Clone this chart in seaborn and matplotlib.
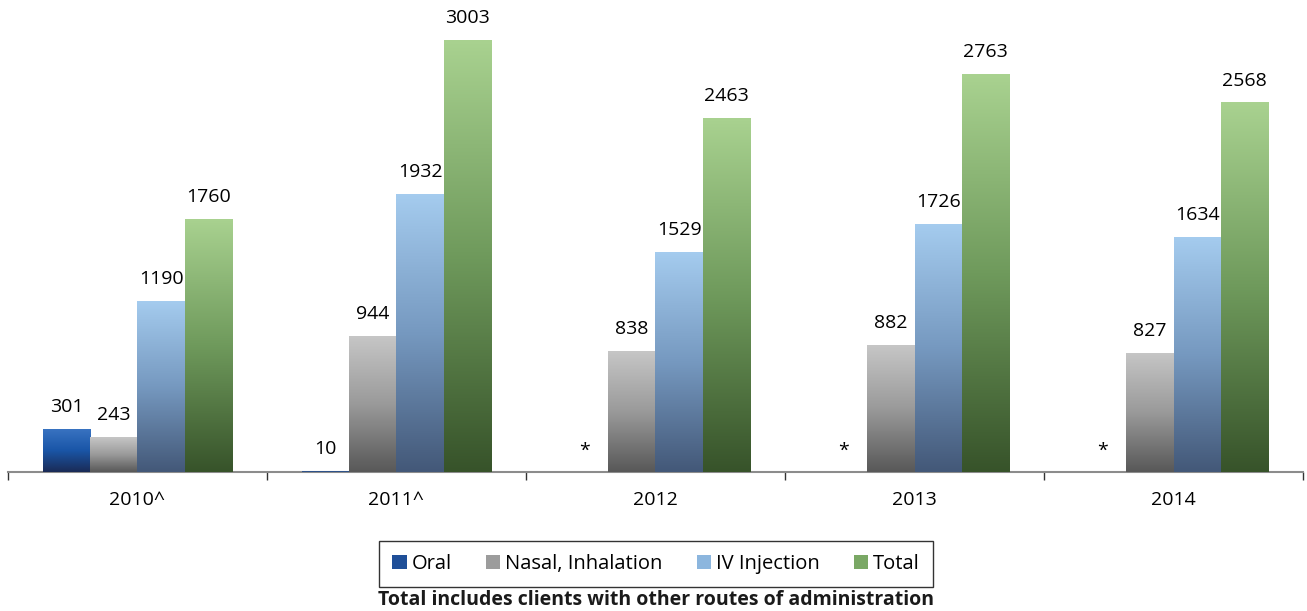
import matplotlib

matplotlib.use("Agg")
import matplotlib.pyplot as plt
import matplotlib.colors as mcolors
import numpy as np
import pandas as pd
import seaborn as sns
from matplotlib.patches import Patch

years = ["2010^", "2011^", "2012", "2013", "2014"]
routes = ["Oral", "Nasal, Inhalation", "IV Injection", "Total"]
oral = [301, 10, None, None, None]
nasal = [243, 944, 838, 882, 827]
iv = [1190, 1932, 1529, 1726, 1634]
total = [1760, 3003, 2463, 2763, 2568]

# gradient stops, top -> bottom
grad = {
    "Oral": ["#3a74c2", "#1a56a8", "#1a2b56"],
    "Nasal, Inhalation": ["#c6c6c6", "#9a9a9a", "#585858"],
    "IV Injection": ["#a5ccef", "#7699c0", "#435878"],
    "Total": ["#a9d290", "#6f9a5c", "#37532a"],
}
swatch = {"Oral": "#1f4f98", "Nasal, Inhalation": "#9c9c9c",
          "IV Injection": "#8cb6de", "Total": "#7aa865"}

rows = []
for r, vals in zip(routes, [oral, nasal, iv, total]):
    for y, v in zip(years, vals):
        rows.append({"year": y, "route": r, "value": v})
df = pd.DataFrame(rows)
df["plot_value"] = df["value"].fillna(0)

sns.set_style("white")
plt.rcParams["font.family"] = ["Open Sans", "DejaVu Sans"]
plt.rcParams["text.color"] = "black"
plt.rcParams["xtick.color"] = "black"

fig = plt.figure(figsize=(13.07, 6.11), dpi=100)
ax = fig.add_axes([0.006, 0.2275, 0.991, 0.7725])

sns.barplot(data=df, x="year", y="plot_value", hue="route", order=years,
            hue_order=routes, width=0.73, errorbar=None, legend=False,
            palette=swatch, ax=ax)

ymax = 3280
for route, cont in zip(routes, ax.containers):
    cmap = mcolors.LinearSegmentedColormap.from_list(route, grad[route][::-1])
    sub = df[df["route"] == route].set_index("year").loc[years]
    for bar, val in zip(cont, sub["value"]):
        x0, w, h = bar.get_x(), bar.get_width(), bar.get_height()
        bar.set_zorder(3)
        if h > 30:
            img = ax.imshow(np.linspace(0, 1, 256).reshape(-1, 1), cmap=cmap,
                            extent=[x0, x0 + w, 0, h], origin="lower",
                            aspect="auto", zorder=3.1)
            img.set_clip_path(bar)
        bar.set_edgecolor("none")
        if pd.isna(val):
            ax.text(x0 + w / 2, 210, "*", ha="center", va="top", fontsize=14)
        else:
            ax.text(x0 + w / 2, h + 90, f"{int(val)}", ha="center",
                    va="bottom", fontsize=14)

ax.set_xlim(-0.5, len(years) - 0.5)
ax.set_ylim(0, ymax)
ax.set_xlabel("")
ax.set_ylabel("")
ax.set_yticks([])
for s in ["top", "left", "right"]:
    ax.spines[s].set_visible(False)
ax.spines["bottom"].set_color("#8c8c8c")
ax.spines["bottom"].set_linewidth(1.5)
ax.spines["bottom"].set_zorder(2)
ax.set_xticks(range(len(years)))
ax.set_xticklabels(years, fontsize=14)
ax.set_xticks(np.arange(-0.5, len(years)), minor=True)
ax.tick_params(axis="x", which="major", length=0, pad=14)
ax.tick_params(axis="x", which="minor", bottom=True, length=6, width=1,
               color="#333333", direction="out")

handles = [Patch(facecolor=swatch[r], edgecolor="none", label=r) for r in routes]
leg = fig.legend(handles=handles, loc="center", bbox_to_anchor=(0.502, 0.077),
                 ncol=4, frameon=True, fontsize=14.5, handlelength=0.7,
                 handleheight=0.7, handletextpad=0.25, columnspacing=1.7,
                 borderpad=0.65, borderaxespad=0, fancybox=False)
leg.get_frame().set_edgecolor("black")
leg.get_frame().set_linewidth(1)

fig.text(0.502, 0.018, "Total includes clients with other routes of administration",
         ha="center", va="center", fontsize=14, fontweight="bold",
         color="#1a1a1a")

fig.savefig("out.png", dpi=100)
